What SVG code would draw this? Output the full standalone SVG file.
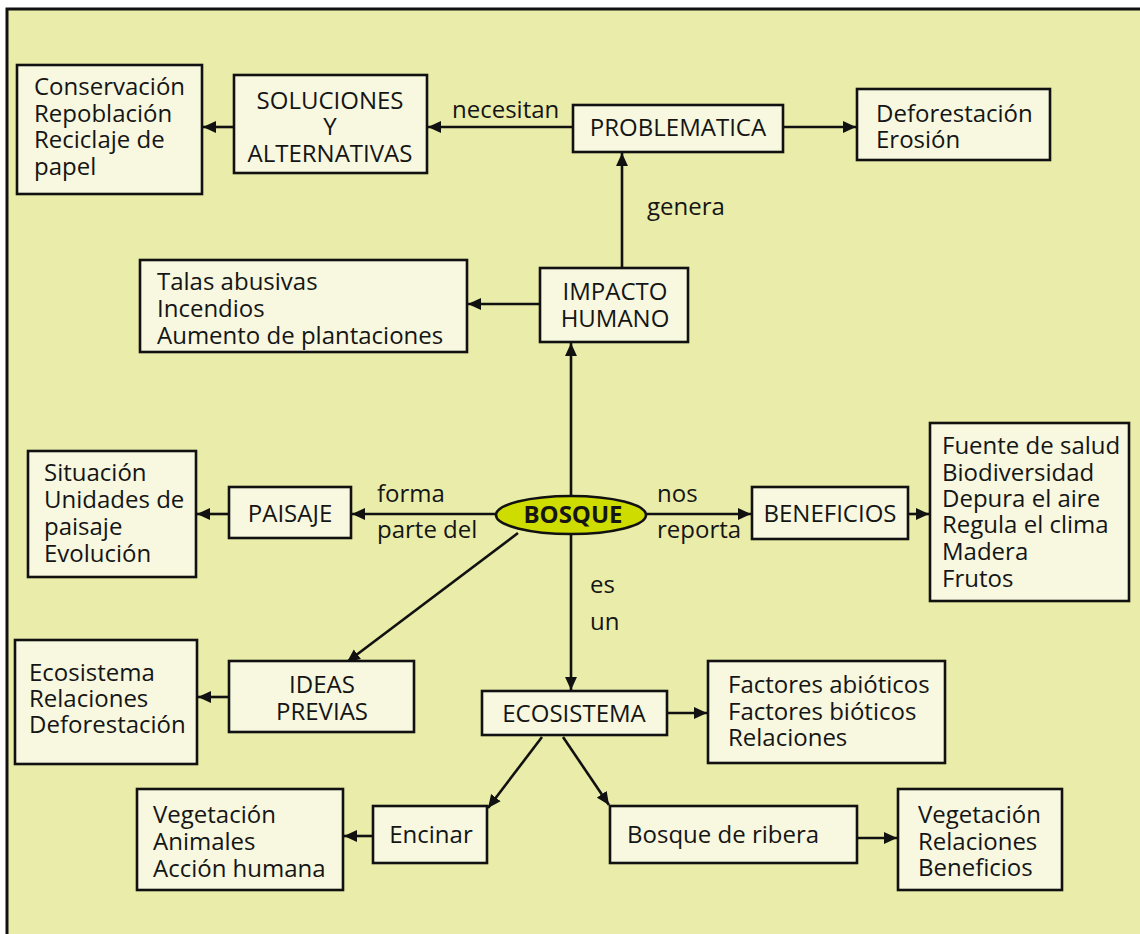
<svg xmlns="http://www.w3.org/2000/svg" width="1140" height="934" viewBox="0 0 1140 934">
<defs>
<style>
.bg{fill:#eaeca9;stroke:#111;stroke-width:3}
.box{fill:#f7f8df;stroke:#111;stroke-width:2.6}
.t{font-family:"Open Sans","Noto Sans",sans-serif;font-size:24px;fill:#151515}
.c{text-anchor:middle}
.lnk{stroke:#111;stroke-width:2.6;fill:none}
</style>
<marker id="a" viewBox="0 0 12 12" refX="12" refY="6" markerWidth="13" markerHeight="13" markerUnits="userSpaceOnUse" orient="auto">
<path d="M0,0.5 L12,6 L0,11.5 z" fill="#111"/>
</marker>
</defs>
<rect x="0" y="0" width="1140" height="934" fill="#ffffff"/>
<rect class="bg" x="7" y="9" width="1140" height="940"/>

<g id="connectors">
<line class="lnk" x1="573" y1="127" x2="428" y2="127" marker-end="url(#a)"/>
<line class="lnk" x1="234" y1="127" x2="203" y2="127" marker-end="url(#a)"/>
<line class="lnk" x1="783" y1="127" x2="856" y2="127" marker-end="url(#a)"/>
<line class="lnk" x1="622" y1="268" x2="622" y2="153" marker-end="url(#a)"/>
<line class="lnk" x1="540" y1="304" x2="468" y2="304" marker-end="url(#a)"/>
<line class="lnk" x1="571" y1="496" x2="571" y2="343" marker-end="url(#a)"/>
<line class="lnk" x1="496" y1="514" x2="352" y2="514" marker-end="url(#a)"/>
<line class="lnk" x1="229" y1="514" x2="197" y2="514" marker-end="url(#a)"/>
<line class="lnk" x1="647" y1="514" x2="751" y2="514" marker-end="url(#a)"/>
<line class="lnk" x1="908" y1="514" x2="929" y2="514" marker-end="url(#a)"/>
<line class="lnk" x1="518" y1="533" x2="347" y2="662" marker-end="url(#a)"/>
<line class="lnk" x1="229" y1="697" x2="198" y2="697" marker-end="url(#a)"/>
<line class="lnk" x1="571" y1="535" x2="571" y2="690" marker-end="url(#a)"/>
<line class="lnk" x1="667" y1="713" x2="707" y2="713" marker-end="url(#a)"/>
<line class="lnk" x1="542" y1="737" x2="488" y2="808" marker-end="url(#a)"/>
<line class="lnk" x1="563" y1="737" x2="609" y2="805" marker-end="url(#a)"/>
<line class="lnk" x1="857" y1="838" x2="897" y2="838" marker-end="url(#a)"/>
<line class="lnk" x1="373" y1="836" x2="344" y2="836" marker-end="url(#a)"/>
<text class="t" x="452" y="118">necesitan</text>
<text class="t" x="647" y="215">genera</text>
<text class="t" x="377" y="502">forma</text>
<text class="t" x="377" y="538">parte del</text>
<text class="t" x="657" y="502">nos</text>
<text class="t" x="657" y="538">reporta</text>
<text class="t" x="590" y="593">es</text>
<text class="t" x="590" y="630">un</text>
</g>

<g id="conservacion">
<rect class="box" x="17" y="65" width="185" height="129"/>
<text class="t" x="34" y="95">Conservación</text>
<text class="t" x="34" y="122">Repoblación</text>
<text class="t" x="34" y="148">Reciclaje de</text>
<text class="t" x="34" y="175">papel</text>
</g>
<g id="soluciones">
<rect class="box" x="234" y="75" width="193" height="98"/>
<text class="t c" x="330" y="109">SOLUCIONES</text>
<text class="t c" x="330" y="135">Y</text>
<text class="t c" x="330" y="162">ALTERNATIVAS</text>
</g>
<g id="problematica">
<rect class="box" x="573" y="105" width="210" height="47"/>
<text class="t c" x="678" y="136">PROBLEMATICA</text>
</g>
<g id="deforestacion">
<rect class="box" x="857" y="89" width="193" height="71"/>
<text class="t" x="876" y="122">Deforestación</text>
<text class="t" x="876" y="148">Erosión</text>
</g>
<g id="impacto">
<rect class="box" x="540" y="268" width="148" height="74"/>
<text class="t c" x="615" y="300">IMPACTO</text>
<text class="t c" x="615" y="327">HUMANO</text>
</g>
<g id="talas">
<rect class="box" x="140" y="260" width="327" height="92"/>
<text class="t" x="157" y="290">Talas abusivas</text>
<text class="t" x="157" y="317">Incendios</text>
<text class="t" x="157" y="344">Aumento de plantaciones</text>
</g>
<g id="bosque">
<ellipse cx="571" cy="515" rx="75" ry="19" fill="#cedc00" stroke="#111" stroke-width="2.6"/>
<text class="t c" x="573" y="523" style="font-weight:bold;font-size:24px">BOSQUE</text>
</g>
<g id="paisaje">
<rect class="box" x="229" y="487" width="122" height="51"/>
<text class="t c" x="290" y="522">PAISAJE</text>
</g>
<g id="situacion">
<rect class="box" x="28" y="451" width="168" height="126"/>
<text class="t" x="44" y="481">Situación</text>
<text class="t" x="44" y="508">Unidades de</text>
<text class="t" x="44" y="535">paisaje</text>
<text class="t" x="44" y="562">Evolución</text>
</g>
<g id="beneficios">
<rect class="box" x="752" y="487" width="156" height="52"/>
<text class="t c" x="830" y="522">BENEFICIOS</text>
</g>
<g id="fuente">
<rect class="box" x="930" y="423" width="199" height="178"/>
<text class="t" x="942" y="454">Fuente de salud</text>
<text class="t" x="942" y="481">Biodiversidad</text>
<text class="t" x="942" y="507">Depura el aire</text>
<text class="t" x="942" y="533">Regula el clima</text>
<text class="t" x="942" y="560">Madera</text>
<text class="t" x="942" y="587">Frutos</text>
</g>
<g id="ideas">
<rect class="box" x="229" y="661" width="185" height="71"/>
<text class="t c" x="322" y="693">IDEAS</text>
<text class="t c" x="322" y="720">PREVIAS</text>
</g>
<g id="ecosistema-lista">
<rect class="box" x="15" y="640" width="182" height="124"/>
<text class="t" x="29" y="681">Ecosistema</text>
<text class="t" x="29" y="707">Relaciones</text>
<text class="t" x="29" y="733">Deforestación</text>
</g>
<g id="ecosistema">
<rect class="box" x="482" y="691" width="185" height="44"/>
<text class="t c" x="574" y="722">ECOSISTEMA</text>
</g>
<g id="factores">
<rect class="box" x="708" y="661" width="237" height="102"/>
<text class="t" x="728" y="693">Factores abióticos</text>
<text class="t" x="728" y="720">Factores bióticos</text>
<text class="t" x="728" y="746">Relaciones</text>
</g>
<g id="encinar">
<rect class="box" x="373" y="806" width="114" height="57"/>
<text class="t c" x="431" y="843">Encinar</text>
</g>
<g id="vegetacion-encinar">
<rect class="box" x="137" y="789" width="206" height="101"/>
<text class="t" x="153" y="823">Vegetación</text>
<text class="t" x="153" y="850">Animales</text>
<text class="t" x="153" y="877">Acción humana</text>
</g>
<g id="ribera">
<rect class="box" x="610" y="806" width="247" height="57"/>
<text class="t" x="627" y="843">Bosque de ribera</text>
</g>
<g id="vegetacion-ribera">
<rect class="box" x="898" y="789" width="164" height="101"/>
<text class="t" x="918" y="823">Vegetación</text>
<text class="t" x="918" y="850">Relaciones</text>
<text class="t" x="918" y="876">Beneficios</text>
</g>
</svg>
